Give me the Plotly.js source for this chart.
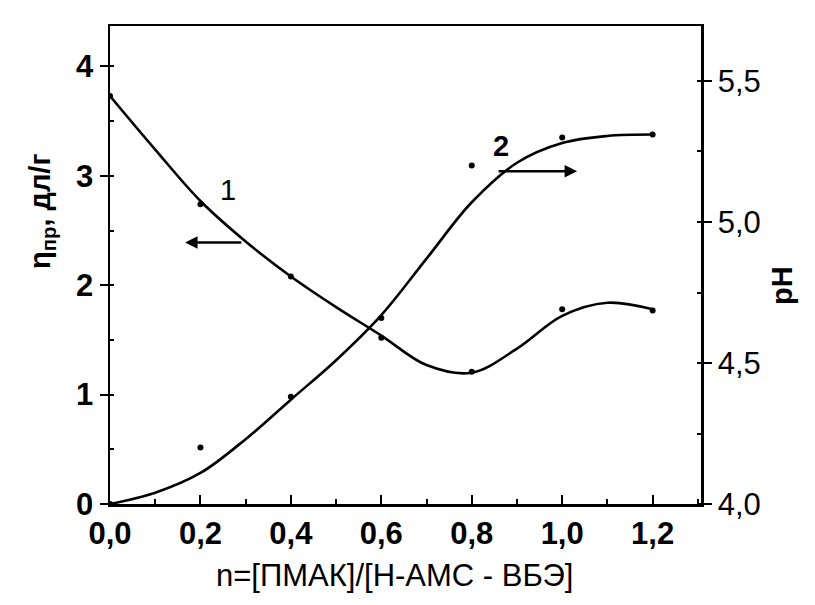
<!DOCTYPE html>
<html>
<head>
<meta charset="utf-8">
<script src="https://cdn.plot.ly/plotly-3.0.1.min.js"></script>
<style>html,body{margin:0;padding:0;background:#fff;}#chart{width:815px;height:605px;}</style>
</head>
<body>
<div id="chart"></div>
<script>
// Measured points, curve 1: reduced viscosity (left axis)
var nPoints = [0.0, 0.2, 0.4, 0.6, 0.8, 1.0, 1.2];
var etaPoints = [3.73, 2.74, 2.08, 1.52, 1.21, 1.78, 1.77];
// Smoothed curve 1 as drawn in the figure
var nFit = [0.0, 0.1, 0.2, 0.3, 0.4, 0.5, 0.6, 0.7, 0.8, 0.9, 1.0, 1.1, 1.2];
var etaFit = [3.73, 3.24, 2.77, 2.40, 2.08, 1.80, 1.54, 1.27, 1.20, 1.42, 1.72, 1.84, 1.78];
// Measured points, curve 2: pH (right axis)
var phPoints = [4.0, 4.20, 4.38, 4.66, 5.20, 5.30, 5.31];
// Smoothed curve 2 as drawn in the figure
var phFit = [4.0, 4.04, 4.11, 4.23, 4.37, 4.51, 4.67, 4.87, 5.07, 5.21, 5.28, 5.305, 5.31];

var xTickVals = [0.0, 0.2, 0.4, 0.6, 0.8, 1.0, 1.2];
var xTickText = ['0,0', '0,2', '0,4', '0,6', '0,8', '1,0', '1,2'];
var yTickVals = [0, 1, 2, 3, 4];
var y2TickVals = [4.0, 4.5, 5.0, 5.5];
var y2TickText = ['4,0', '4,5', '5,0', '5,5'];

var F = 'Liberation Sans, Arial, sans-serif';
var lineStyle = {color: '#000', width: 2.6, shape: 'spline', smoothing: 1};
var mk = {color: '#000', size: 6};

var traces = [
  {x: nFit, y: etaFit, mode: 'lines', line: lineStyle, yaxis: 'y', hoverinfo: 'skip'},
  {x: nPoints, y: etaPoints, mode: 'markers', marker: mk, yaxis: 'y'},
  {x: nFit, y: phFit, mode: 'lines', line: lineStyle, yaxis: 'y2', hoverinfo: 'skip'},
  {x: nPoints, y: phPoints, mode: 'markers', marker: mk, yaxis: 'y2'}
];

var layout = {
  width: 815, height: 605,
  margin: {l: 110, r: 114, t: 26, b: 101},
  paper_bgcolor: '#fff', plot_bgcolor: '#fff',
  showlegend: false,
  font: {family: F, color: '#000', size: 26},
  xaxis: {
    range: [0, 1.307], tickvals: xTickVals, ticktext: xTickText,
    ticks: 'inside', ticklen: 9, tickwidth: 2, tickcolor: '#000',
    minor: {dtick: 0.1, tick0: 0, ticks: 'inside', ticklen: 5, tickwidth: 2, tickcolor: '#000'},
    showline: true, linewidth: 2.5, linecolor: '#000', mirror: true,
    showgrid: false, zeroline: false,
    tickfont: {family: F, size: 31, color: '#000', weight: 'bold'}
  },
  yaxis: {
    range: [0, 4.37], tickvals: yTickVals,
    ticks: 'outside', ticklen: 8, tickwidth: 2, tickcolor: '#000',
    minor: {dtick: 0.5, tick0: 0, ticks: 'inside', ticklen: 4, tickwidth: 2, tickcolor: '#000'},
    showline: true, linewidth: 2.5, linecolor: '#000',
    showgrid: false, zeroline: false,
    tickfont: {family: F, size: 31, color: '#000', weight: 'bold'}
  },
  yaxis2: {
    overlaying: 'y', side: 'right',
    range: [4.0, 5.695], tickvals: y2TickVals, ticktext: y2TickText,
    ticks: 'outside', ticklen: 8, tickwidth: 2, tickcolor: '#000',
    minor: {dtick: 0.25, tick0: 4, ticks: 'inside', ticklen: 4, tickwidth: 2, tickcolor: '#000'},
    showline: true, linewidth: 2.5, linecolor: '#000',
    showgrid: false, zeroline: false,
    tickfont: {family: F, size: 31, color: '#000'}
  },
  annotations: [
    {x: 0.166, y: 2.39, xref: 'x', yref: 'y', ax: 0.294, ay: 2.39, axref: 'x', ayref: 'y',
     showarrow: true, arrowhead: 2, arrowsize: 1, arrowwidth: 2.5, arrowcolor: '#000', text: ''},
    {x: 1.033, y: 5.18, xref: 'x', yref: 'y2', ax: 0.856, ay: 5.18, axref: 'x', ayref: 'y2',
     showarrow: true, arrowhead: 2, arrowsize: 1, arrowwidth: 2.5, arrowcolor: '#000', text: ''},
    {x: 0.26, y: 2.87, xref: 'x', yref: 'y', text: '1', showarrow: false,
     font: {family: F, size: 29, color: '#000'}},
    {x: 0.865, y: 5.27, xref: 'x', yref: 'y2', text: '2', showarrow: false,
     font: {family: F, size: 29, color: '#000', weight: 'bold'}},
    {x: 0.482, y: -0.149, xref: 'paper', yref: 'paper', xanchor: 'center', yanchor: 'middle',
     text: 'n=[ПМАК]/[Н-АМС - ВБЭ]', showarrow: false,
     font: {family: F, size: 31, color: '#000'}},
    {x: -0.115, y: 0.611, xref: 'paper', yref: 'paper', xanchor: 'center', yanchor: 'middle',
     textangle: -90, text: 'η<sub>пр</sub>, дл/г', showarrow: false,
     font: {family: F, size: 29, color: '#000', weight: 'bold'}},
    {x: 1.137, y: 0.458, xref: 'paper', yref: 'paper', xanchor: 'center', yanchor: 'middle',
     textangle: -90, text: 'pH', showarrow: false,
     font: {family: F, size: 29, color: '#000', weight: 'bold'}}
  ]
};

Plotly.newPlot('chart', traces, layout, {displayModeBar: false, staticPlot: true});
</script>
</body>
</html>
